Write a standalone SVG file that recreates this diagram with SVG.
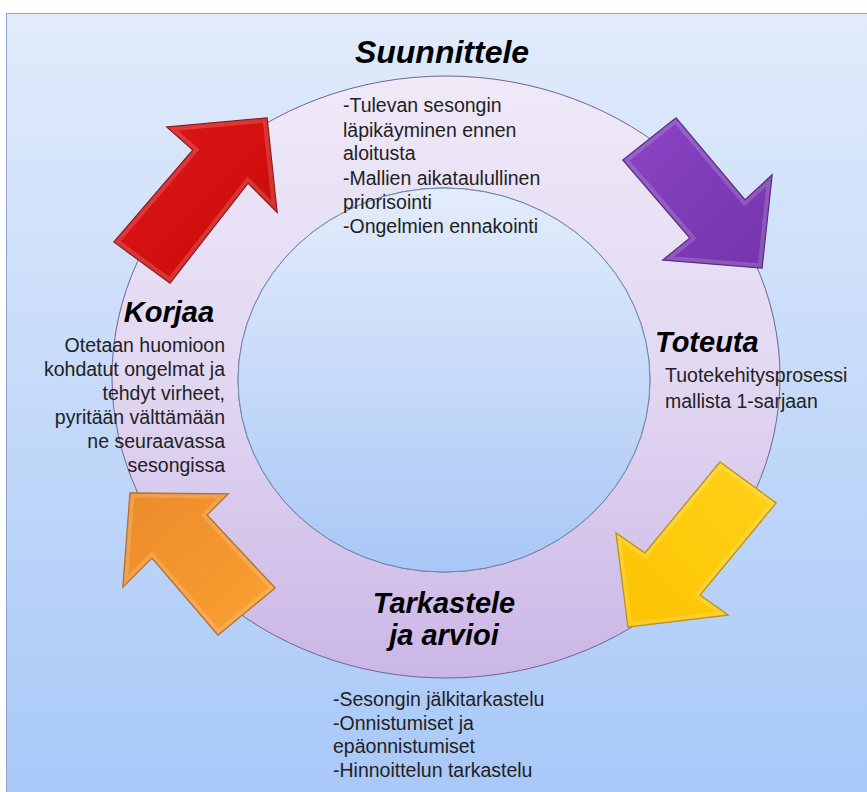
<svg xmlns="http://www.w3.org/2000/svg" width="867" height="792" viewBox="0 0 867 792">
  <style>
    .title { font-family: "Liberation Sans", Arial, sans-serif; font-weight: bold; font-style: italic; font-size: 29px; fill: #000; }
    .body { font-family: "Liberation Sans", Arial, sans-serif; font-size: 19.5px; fill: #222; }
    .arrow { stroke-width: 1.4; stroke-linejoin: miter; }
    .bevel { fill: none; stroke: #fff; stroke-opacity: 0.16; stroke-width: 9; stroke-linejoin: miter; }
  </style>
  <defs>
    <linearGradient id="bg" x1="0" y1="0" x2="0" y2="1">
      <stop offset="0" stop-color="#e1ebfb"/>
      <stop offset="1" stop-color="#a8c8f8"/>
    </linearGradient>
    <linearGradient id="ringFill" x1="0" y1="0" x2="0" y2="1">
      <stop offset="0" stop-color="#efe9f8"/>
      <stop offset="0.5" stop-color="#e2d8f2"/>
      <stop offset="1" stop-color="#cbb6e6"/>
    </linearGradient>
    <linearGradient id="coreFill" x1="0" y1="0" x2="0" y2="1">
      <stop offset="0" stop-color="#e3ecfb"/>
      <stop offset="1" stop-color="#a9c7f6"/>
    </linearGradient>
    <linearGradient id="gRed" x1="0" y1="0" x2="1" y2="1">
      <stop offset="0" stop-color="#e01818"/>
      <stop offset="1" stop-color="#c80808"/>
    </linearGradient>
    <linearGradient id="gPurple" x1="0" y1="0" x2="1" y2="1">
      <stop offset="0" stop-color="#8a45c4"/>
      <stop offset="1" stop-color="#7433ad"/>
    </linearGradient>
    <linearGradient id="gYellow" x1="1" y1="0" x2="0" y2="1">
      <stop offset="0" stop-color="#ffd21a"/>
      <stop offset="1" stop-color="#fcc300"/>
    </linearGradient>
    <linearGradient id="gOrange" x1="0" y1="0" x2="1" y2="1">
      <stop offset="0" stop-color="#ec8a2a"/>
      <stop offset="1" stop-color="#fba232"/>
    </linearGradient>
    <polygon id="shpRed" points="114,242 193,150 167,127 267,118 277,212 248,183 170,283"/>
    <polygon id="shpPurple" points="623,160 676,118 745,200 772,175 762,268 663,260 690,238"/>
    <polygon id="shpYellow" points="720,462 776,503 700,595 728,615 628,627 616,533 645,553"/>
    <polygon id="shpOrange" points="275,588 218,635 152,558 123,587 130,493 228,494 207,515"/>
    <clipPath id="clipRed"><use href="#shpRed"/></clipPath>
    <clipPath id="clipPurple"><use href="#shpPurple"/></clipPath>
    <clipPath id="clipYellow"><use href="#shpYellow"/></clipPath>
    <clipPath id="clipOrange"><use href="#shpOrange"/></clipPath>
  </defs>

  <!-- backdrop panel -->
  <rect x="6.5" y="13.5" width="870" height="790" fill="url(#bg)" stroke="#8ea6c6" stroke-width="1"/>

  <!-- cycle ring and core -->
  <path d="M 112 377 A 334 301 0 1 0 780 377 A 334 301 0 1 0 112 377 Z M 238 380 A 206 192 0 1 1 650 380 A 206 192 0 1 1 238 380 Z"
        fill="url(#ringFill)" fill-rule="evenodd" stroke="#6f6590" stroke-width="1"/>
  <ellipse cx="444" cy="380" rx="206" ry="192" fill="url(#coreFill)" stroke="#6f86ad" stroke-width="1"/>

  <!-- connectors: the four cycle arrows, each with a soft inner bevel -->
  <g id="connectors">
    <use href="#shpRed" class="arrow" fill="url(#gRed)" stroke="#8c0a0a"/>
    <use href="#shpRed" class="bevel" clip-path="url(#clipRed)"/>
    <use href="#shpPurple" class="arrow" fill="url(#gPurple)" stroke="#4e1f7c"/>
    <use href="#shpPurple" class="bevel" clip-path="url(#clipPurple)"/>
    <use href="#shpYellow" class="arrow" fill="url(#gYellow)" stroke="#b98d00"/>
    <use href="#shpYellow" class="bevel" clip-path="url(#clipYellow)"/>
    <use href="#shpOrange" class="arrow" fill="url(#gOrange)" stroke="#b0661c"/>
    <use href="#shpOrange" class="bevel" clip-path="url(#clipOrange)"/>
  </g>

  <!-- phase nodes -->
  <g id="suunnittele">
    <text class="title" x="442" y="63" text-anchor="middle" style="font-size:32px">Suunnittele</text>
    <text class="body" x="343" y="112">-Tulevan sesongin</text>
    <text class="body" x="343" y="137">läpikäyminen ennen</text>
    <text class="body" x="343" y="160">aloitusta</text>
    <text class="body" x="343" y="185">-Mallien aikataulullinen</text>
    <text class="body" x="343" y="209">priorisointi</text>
    <text class="body" x="343" y="233">-Ongelmien ennakointi</text>
  </g>

  <g id="toteuta">
    <text class="title" x="655" y="352">Toteuta</text>
    <text class="body" x="665" y="382">Tuotekehitysprosessi</text>
    <text class="body" x="665" y="408">mallista 1-sarjaan</text>
  </g>

  <g id="tarkastele">
    <text class="title" x="444" y="613" text-anchor="middle">Tarkastele</text>
    <text class="title" x="444" y="645" text-anchor="middle">ja arvioi</text>
    <text class="body" x="333" y="706">-Sesongin jälkitarkastelu</text>
    <text class="body" x="333" y="730">-Onnistumiset ja</text>
    <text class="body" x="333" y="753">epäonnistumiset</text>
    <text class="body" x="333" y="777">-Hinnoittelun tarkastelu</text>
  </g>

  <g id="korjaa">
    <text class="title" x="169" y="322" text-anchor="middle">Korjaa</text>
    <text class="body" x="225" y="352" text-anchor="end">Otetaan huomioon</text>
    <text class="body" x="225" y="376" text-anchor="end">kohdatut ongelmat ja</text>
    <text class="body" x="225" y="400" text-anchor="end">tehdyt virheet,</text>
    <text class="body" x="225" y="424" text-anchor="end">pyritään välttämään</text>
    <text class="body" x="225" y="448" text-anchor="end">ne seuraavassa</text>
    <text class="body" x="225" y="472" text-anchor="end">sesongissa</text>
  </g>
</svg>
